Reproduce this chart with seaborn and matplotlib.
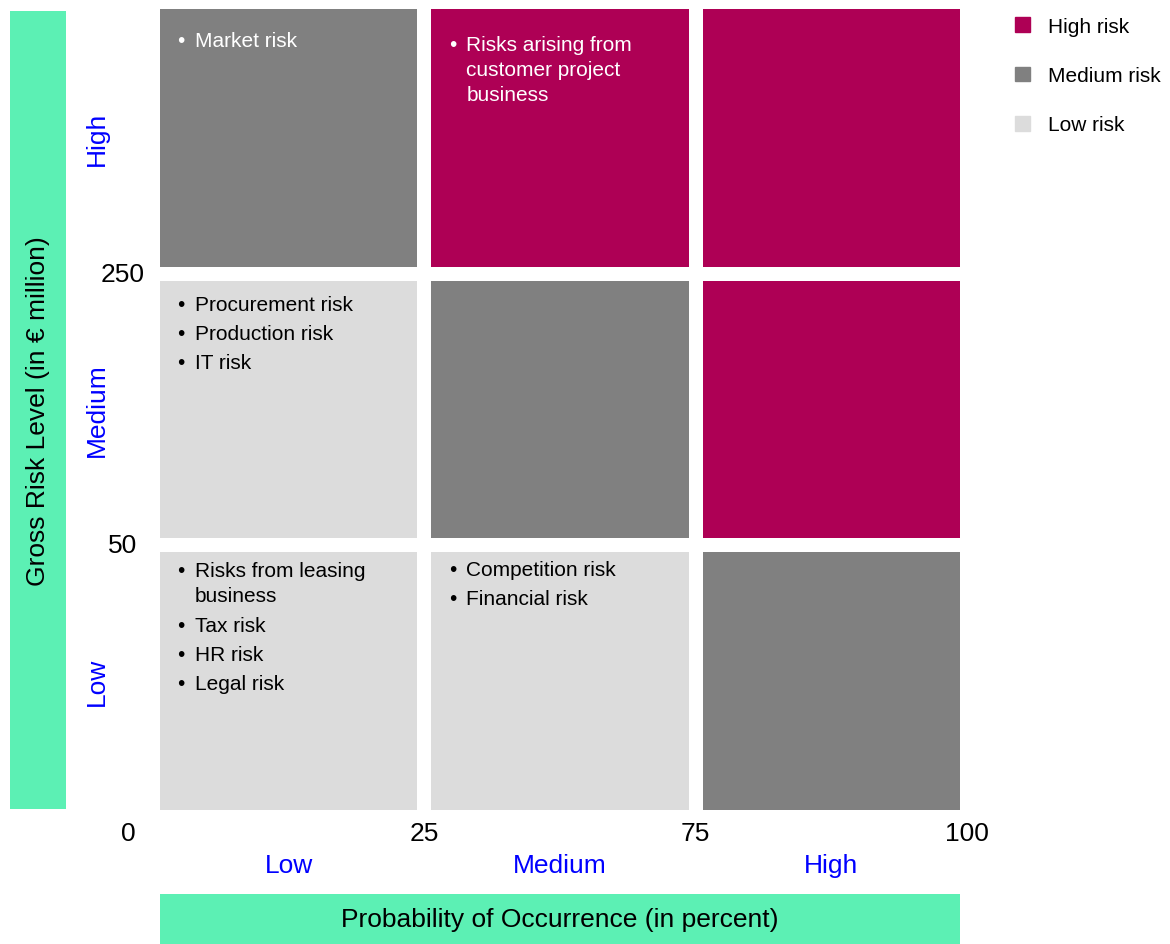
import pandas as pd
import seaborn as sns
import matplotlib.pyplot as plt
from matplotlib.colors import ListedColormap
from matplotlib.patches import Patch

# Data
levels = ['Low', 'Medium', 'High']
gross_levels = ['High', 'Medium', 'Low']          # rows, top to bottom
risk_names = ['Low risk', 'Medium risk', 'High risk']
risk_colors = ['#dcdcdc', '#808080', '#ae0055']
# risk class per cell (0 low, 1 medium, 2 high)
risk_grid = [[1, 2, 2],
             [0, 1, 2],
             [0, 0, 1]]
prob_bounds = ['0', '25', '75', '100']
gross_bounds = ['250', '50']
cell_items = {
    (0, 0): ['Market risk'],
    (0, 1): ['Risks arising from\ncustomer project\nbusiness'],
    (1, 0): ['Procurement risk', 'Production risk', 'IT risk'],
    (2, 0): ['Risks from leasing\nbusiness', 'Tax risk', 'HR risk', 'Legal risk'],
    (2, 1): ['Competition risk', 'Financial risk'],
}

# Style
sns.set_style('white')
plt.rcParams['font.family'] = ['Liberation Sans', 'DejaVu Sans']
plt.rcParams['text.color'] = 'black'
plt.rcParams['axes.labelcolor'] = 'black'
green = '#5cf0b4'
blue = '#0000ff'
W, H = 1170, 945

fig = plt.figure(figsize=(11.7, 9.45), dpi=100)
ax = fig.add_axes([153 / W, 1 - 818 / H, 814 / W, 815 / H])

df = pd.DataFrame(risk_grid, index=gross_levels, columns=levels)
sns.heatmap(df, cmap=ListedColormap(risk_colors), vmin=-0.5, vmax=2.5, cbar=False,
            linewidths=10, linecolor='white', ax=ax)

ax.tick_params(length=0)
ax.set_xticklabels(levels, color=blue, fontsize=19)
ax.set_yticklabels(gross_levels, color=blue, fontsize=19, rotation=90, va='center')
ax.tick_params(axis='x', pad=26)
ax.tick_params(axis='y', pad=32)
ax.set_xlabel('')
ax.set_ylabel('')

# boundary values
x_shift = {'0': -25}
for i, lab in enumerate(prob_bounds):
    ax.annotate(lab, xy=(i, 3), xytext=(x_shift.get(lab, 0), -16), textcoords='offset pixels',
                ha='center', va='center', fontsize=19)
for i, lab in enumerate(gross_bounds):
    ax.annotate(lab, xy=(0, i + 1), xytext=(-30, 0), textcoords='offset pixels',
                ha='center', va='center', fontsize=19)

# bullet lists inside the cells
top_pad = {(0, 0): 29, (0, 1): 33, (1, 0): 21, (2, 0): 16, (2, 1): 15}
for (r, c), items in cell_items.items():
    col = 'white' if risk_grid[r][c] > 0 else 'black'
    y = top_pad[(r, c)]
    for item in items:
        ax.annotate('•', xy=(c, r), xytext=(28, -y), textcoords='offset pixels',
                    ha='center', va='top', fontsize=15, color=col)
        ax.annotate(item, xy=(c, r), xytext=(42, -y), textcoords='offset pixels',
                    ha='left', va='top', fontsize=15, color=col, linespacing=1.4)
        y += 29 + 26 * item.count('\n')

# green axis title boxes
left_box = fig.add_axes([10 / W, 1 - 810 / H, 56 / W, 798 / H])
left_box.set_facecolor(green)
left_box.set_xticks([])
left_box.set_yticks([])
for s in left_box.spines.values():
    s.set_visible(False)
left_box.text(0.5, 0.5, 'Gross Risk Level (in € million)', rotation=90,
              ha='center', va='center', fontsize=19, transform=left_box.transAxes)

bottom_box = fig.add_axes([160 / W, 0, 800 / W, 50 / H])
bottom_box.set_facecolor(green)
bottom_box.set_xticks([])
bottom_box.set_yticks([])
for s in bottom_box.spines.values():
    s.set_visible(False)
bottom_box.text(0.5, 0.5, 'Probability of Occurrence (in percent)',
                ha='center', va='center', fontsize=19, transform=bottom_box.transAxes)

# legend
handles = [Patch(color=risk_colors[i], label=risk_names[i]) for i in [2, 1, 0]]
fig.legend(handles=handles, loc='upper left', bbox_to_anchor=(1015 / W, 1 - 18 / H),
           frameon=False, fontsize=15, handlelength=0.72, handleheight=0.72,
           handletextpad=0.87, labelspacing=1.45, borderpad=0, borderaxespad=0)

fig.savefig('out.png', dpi=100)
